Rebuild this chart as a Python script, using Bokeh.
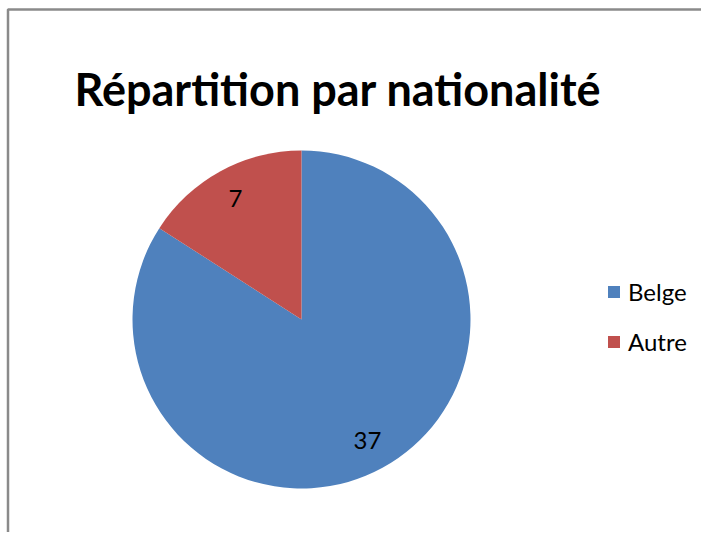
import numpy as np
from bokeh.plotting import figure
from bokeh.models import (Range1d, Label, Legend, LegendItem, ColumnDataSource,
                          CDSView, IndexFilter, BoxAnnotation)
from bokeh.core.properties import value
from bokeh.embed import file_html
from bokeh.resources import INLINE

categories = ["Belge", "Autre"]
values = [37, 7]
colors = ["#4F81BD", "#C0504D"]
title_text = "Répartition par nationalité"

W, H = 701, 532
p = figure(width=W, height=H, output_backend="svg", toolbar_location=None,
           x_range=Range1d(0, W), y_range=Range1d(0, H), min_border=0)
p.axis.visible = False
p.grid.visible = False
p.outline_line_color = None
p.background_fill_color = "white"
p.border_fill_color = "white"

# chart-area frame (left and top edges visible, the rest runs off the page)
p.add_layout(BoxAnnotation(left=7.5, right=W + 30, bottom=-30, top=H - 9,
                           fill_color=None, line_color="#8a8a8a",
                           line_alpha=1.0, line_width=2.5))

cx, cy, r = 301, H - 319, 169
vals = np.array(values, dtype=float)
frac = vals / vals.sum()
ang = frac * 2 * np.pi
start = np.pi / 2 - np.concatenate([[0], np.cumsum(ang)[:-1]])
end = start - ang
mid = (start + end) / 2
src = ColumnDataSource(dict(cat=categories, val=values, start=start, end=end,
                            color=colors,
                            lx=cx + 0.815 * r * np.cos(mid),
                            ly=cy + 0.815 * r * np.sin(mid),
                            lab=[str(v) for v in values]))
rends = []
for i in range(len(values)):
    v = CDSView(filter=IndexFilter([i]))
    g = p.wedge(x=cx, y=cy, radius=r, start_angle="start", end_angle="end",
                direction="clock", color="color", line_color=None,
                source=src, view=v)
    rends.append(g)

p.text(x="lx", y="ly", text="lab", source=src, text_align="center",
       text_baseline="middle", text_font_size="24px", text_color="#000000",
       text_font=value("Lato"))

p.add_layout(Label(x=74, y=H - 88, x_units="screen", y_units="screen",
                   text=title_text, text_font="Lato", text_font_style="bold",
                   text_font_size="45px", text_color="#000000",
                   text_baseline="alphabetic"))

legend = Legend(items=[LegendItem(label=categories[i], renderers=[rends[i]])
                       for i in range(len(values))],
                location=(606, H - 356), border_line_color=None,
                background_fill_alpha=0, label_text_font="Lato",
                label_text_font_size="24px", label_text_color="#000000",
                glyph_width=15, glyph_height=15,
                label_height=26, spacing=21, padding=0, margin=0,
                label_standoff=7)
p.add_layout(legend)

open("out.html", "w").write(file_html(p, INLINE))
